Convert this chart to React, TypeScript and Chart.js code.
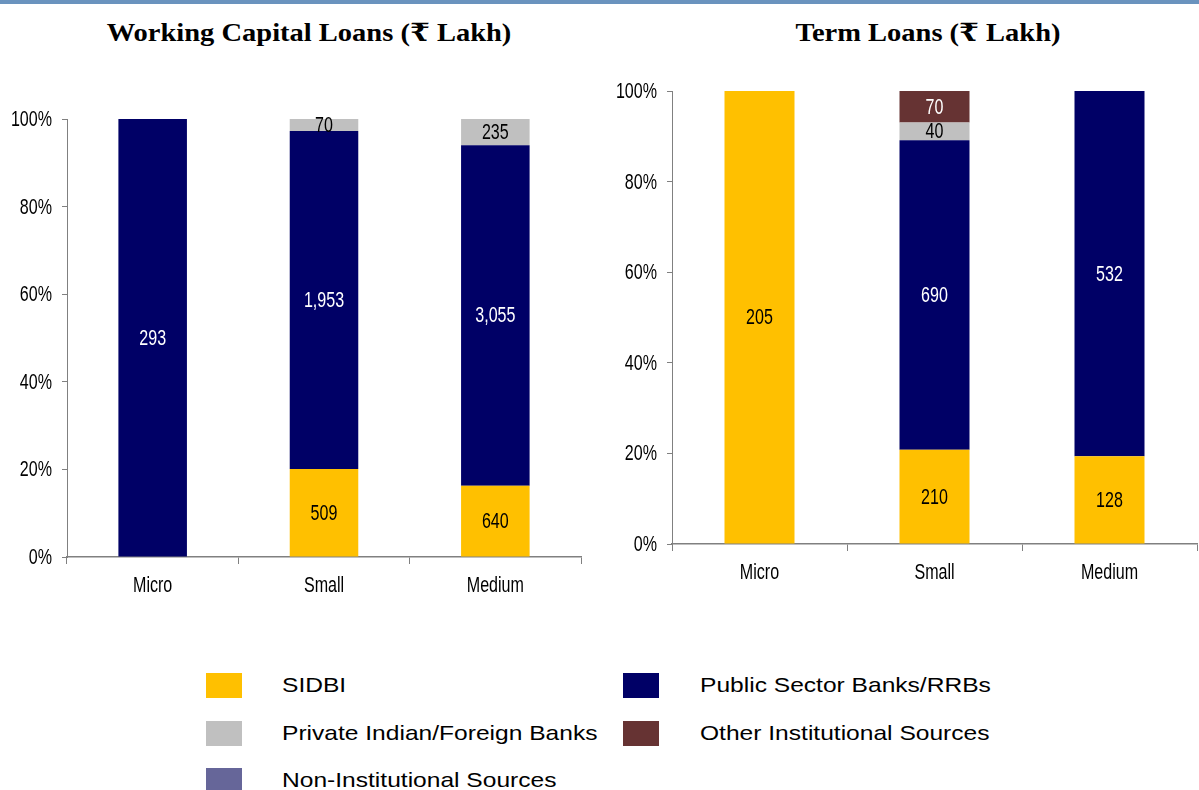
import React, { useEffect, useRef } from "react";
import { Chart, registerables } from "chart.js";

Chart.register(...registerables);

const categories = ["Micro", "Small", "Medium"];
const seriesNames = [
  "SIDBI",
  "Public Sector Banks/RRBs",
  "Private Indian/Foreign Banks",
  "Other Institutional Sources",
  "Non-Institutional Sources",
];
const seriesColors = ["#FFC000", "#000066", "#C0C0C0", "#663333", "#666699"];
const labelColors = ["#000000", "#FFFFFF", "#000000", "#FFFFFF", "#FFFFFF"];

// Working capital loans (₹ Lakh)
const wcSidbi = [0, 509, 640];
const wcPublic = [293, 1953, 3055];
const wcPrivate = [0, 70, 235];
const wcOther = [0, 0, 0];
const wcNonInst = [0, 0, 0];

// Term loans (₹ Lakh)
const tlSidbi = [205, 210, 128];
const tlPublic = [0, 690, 532];
const tlPrivate = [0, 40, 0];
const tlOther = [0, 70, 0];
const tlNonInst = [0, 0, 0];

const yTicks = [0, 20, 40, 60, 80, 100];
const yTickLabels = ["0%", "20%", "40%", "60%", "80%", "100%"];

const SANS = '"Liberation Sans", Arial, sans-serif';
const TEXT_FONT = `22px ${SANS}`;
const SQUEEZE = 0.73;

function buildDatasets(series: number[][]) {
  const totals = categories.map((_, i) => series.reduce((s, arr) => s + arr[i], 0));
  return series.map((arr, k) => ({
    label: seriesNames[k],
    data: arr.map((v, i) => (totals[i] ? (v / totals[i]) * 100 : 0)),
    rawValues: arr,
    backgroundColor: seriesColors[k],
    borderWidth: 0,
    barPercentage: 0.4,
    categoryPercentage: 1,
  }));
}

function drawSqueezed(ctx: CanvasRenderingContext2D, text: string, x: number, y: number, align: CanvasTextAlign, color: string) {
  ctx.save();
  ctx.translate(x, y);
  ctx.scale(SQUEEZE, 1);
  ctx.font = TEXT_FONT;
  ctx.textAlign = align;
  ctx.textBaseline = "middle";
  ctx.fillStyle = color;
  ctx.fillText(text, 0, 0);
  ctx.restore();
}

const textPlugin = {
  id: "squeezedText",
  afterDraw(chart: any) {
    const ctx = chart.ctx as CanvasRenderingContext2D;
    const xs = chart.scales.x;
    const ys = chart.scales.y;
    // value labels
    chart.data.datasets.forEach((ds: any, di: number) => {
      const meta = chart.getDatasetMeta(di);
      meta.data.forEach((el: any, i: number) => {
        const raw = ds.rawValues[i];
        if (!raw) return;
        drawSqueezed(ctx, raw.toLocaleString("en-US"), el.x, (el.y + el.base) / 2 + 1, "center", labelColors[di]);
      });
    });
    // y tick labels
    yTicks.forEach((v, i) => {
      drawSqueezed(ctx, yTickLabels[i], ys.right - 15, ys.getPixelForValue(v) + 1, "right", "#000");
    });
    // x tick labels
    categories.forEach((c, i) => {
      drawSqueezed(ctx, c, xs.getPixelForValue(i), xs.top + 29, "center", "#000");
    });
  },
};

type ChartBoxProps = {
  series: number[][];
  left: number;
  top: number;
  width: number;
  height: number;
  axisX: number;
  plotTop: number;
  plotBottom: number;
  plotRight: number;
};

function ChartBox(p: ChartBoxProps) {
  const ref = useRef<HTMLCanvasElement | null>(null);
  useEffect(() => {
    if (!ref.current) return;
    const yWidth = p.axisX - p.left;
    const xHeight = p.top + p.height - p.plotBottom;
    const chart = new Chart(ref.current, {
      type: "bar",
      data: { labels: categories, datasets: buildDatasets(p.series) as any },
      options: {
        animation: false,
        responsive: false,
        maintainAspectRatio: false,
        layout: {
          padding: { top: p.plotTop - p.top, right: p.left + p.width - p.plotRight, left: 0, bottom: 0 },
        },
        plugins: { legend: { display: false }, tooltip: { enabled: false }, title: { display: false } },
        scales: {
          x: {
            stacked: true,
            grid: { offset: true, drawOnChartArea: false, tickLength: 7, color: "#808080", lineWidth: 1 },
            border: { color: "#808080", width: 1.5 },
            ticks: { display: false },
            afterFit(scale: any) {
              scale.height = xHeight;
            },
          } as any,
          y: {
            stacked: true,
            min: 0,
            max: 100,
            afterBuildTicks(scale: any) {
              scale.ticks = yTicks.map((v) => ({ value: v }));
            },
            grid: { drawOnChartArea: false, tickLength: 5, color: "#808080" },
            border: { color: "#808080", width: 1 },
            ticks: { display: false },
            afterFit(scale: any) {
              scale.width = yWidth;
            },
          } as any,
        },
      },
      plugins: [textPlugin],
    });
    return () => chart.destroy();
  }, []);
  return (
    <canvas
      ref={ref}
      width={p.width}
      height={p.height}
      style={{ position: "absolute", left: p.left, top: p.top, width: p.width, height: p.height }}
    />
  );
}

const legendRows = [
  [0, 1],
  [2, 3],
  [4],
];

export default function App() {
  useEffect(() => {
    document.body.style.margin = "0";
  }, []);
  const titleStyle: React.CSSProperties = {
    position: "absolute",
    top: 20,
    fontFamily: '"Liberation Serif", "DejaVu Serif", serif',
    fontWeight: "bold",
    fontSize: 25,
    lineHeight: "25px",
    whiteSpace: "nowrap",
    transform: "translateX(-50%) scaleX(1.14)",
    color: "#000",
  };
  return (
    <div style={{ position: "absolute", left: 0, top: 0, width: 1199, height: 790, background: "#fff", overflow: "hidden" }}>
      <div style={{ position: "absolute", left: 0, top: 0, width: 1199, height: 4, background: "#6A93BE" }} />
      <div style={{ ...titleStyle, left: 309 }}>Working Capital Loans (₹ Lakh)</div>
      <div style={{ ...titleStyle, left: 928 }}>Term Loans (₹ Lakh)</div>
      <ChartBox
        series={[wcSidbi, wcPublic, wcPrivate, wcOther, wcNonInst]}
        left={0}
        top={60}
        width={600}
        height={560}
        axisX={67}
        plotTop={119}
        plotBottom={557}
        plotRight={581}
      />
      <ChartBox
        series={[tlSidbi, tlPublic, tlPrivate, tlOther, tlNonInst]}
        left={600}
        top={40}
        width={599}
        height={580}
        axisX={672}
        plotTop={91}
        plotBottom={544}
        plotRight={1197}
      />
      {legendRows.map((row, r) =>
        row.map((k, c) => {
          const cy = 685 + r * 47.5;
          const sx = c === 0 ? 206 : 623;
          const tx = c === 0 ? 282 : 700;
          return (
            <React.Fragment key={k}>
              <div
                style={{ position: "absolute", left: sx, top: cy - 12, width: 36, height: 25, background: seriesColors[k] }}
              />
              <div
                style={{
                  position: "absolute",
                  left: tx,
                  top: cy - 13,
                  fontFamily: SANS,
                  fontSize: 21,
                  lineHeight: "26px",
                  whiteSpace: "nowrap",
                  transform: "scaleX(1.17)",
                  transformOrigin: "left center",
                  color: "#000",
                }}
              >
                {seriesNames[k]}
              </div>
            </React.Fragment>
          );
        })
      )}
    </div>
  );
}
